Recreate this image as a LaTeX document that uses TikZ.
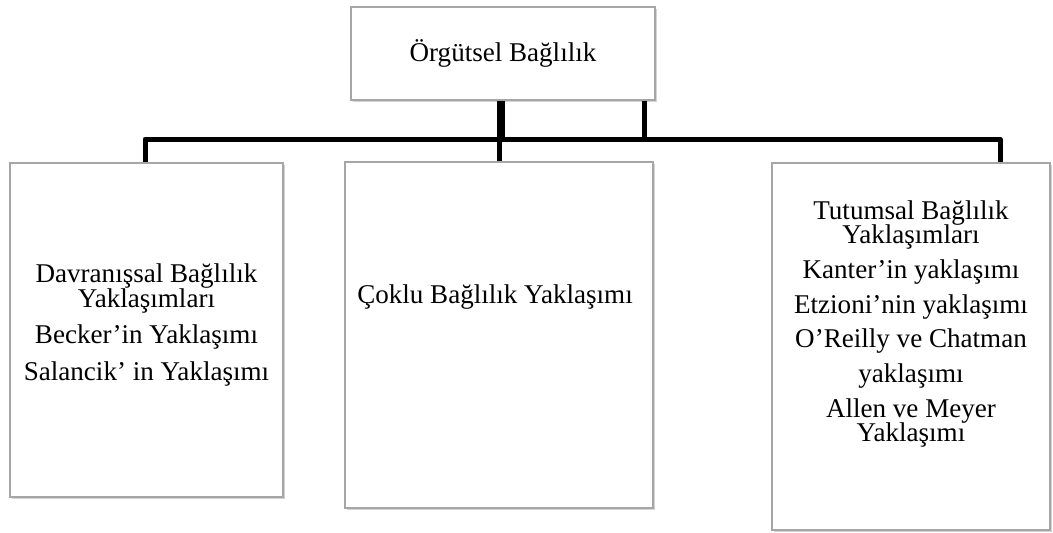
\documentclass[tikz,border=0pt]{standalone}
\usepackage{fontspec}
\setmainfont{Liberation Serif}
\usetikzlibrary{shadows}
\tikzset{
  box/.style={draw=gray!70, line width=0.9pt, fill=white,
    drop shadow={shadow xshift=1.5pt, shadow yshift=-1.5pt, opacity=0.35}},
  txt/.style={align=center, inner sep=0pt, font=\fontsize{20.3}{18.5}\selectfont},
  bar/.style={line width=3.75pt, line join=round}
}
\begin{document}
\begin{tikzpicture}[x=0.75pt,y=-0.75pt]
  \useasboundingbox (0,0) rectangle (1053,532);
  % bus line
  \coordinate (busL) at (145,139);
  \coordinate (busR) at (1000,139);
  \coordinate (busM) at (501,139);
  \coordinate (busN) at (644.5,139);
  \coordinate (busC) at (499,139);
  % boxes
  \node[box, txt, minimum width=228pt, minimum height=69.75pt] (org) at (503,53.5) {Örgütsel Bağlılık};
  \node[box, minimum width=204.75pt, minimum height=250.5pt] (davr) at (146.5,330) {};
  \node[box, minimum width=231pt, minimum height=259.5pt] (coklu) at (499,335) {};
  \node[box, minimum width=208.5pt, minimum height=275.25pt] (tutum) at (911,346.5) {};
  % connectors
  \draw[bar] (davr.north -| busL) -- (busL) -- (busR) -- (tutum.north -| busR);
  \draw[bar, line width=6pt] (org.south -| busM) -- (busM);
  \draw[bar] (org.south -| busN) -- (busN);
  \draw[bar] (busC) -- (coklu.north -| busC);
  % texts
  \node[txt] (davrT) at (146.5,325) {Davranışsal Bağlılık\\Yaklaşımları\\[9pt]Becker’in Yaklaşımı\\[9pt]Salancik’ in Yaklaşımı};
  \node[txt, anchor=west] (cokluT) at (357,297) {Çoklu Bağlılık Yaklaşımı};
  \node[txt] (tutumT) at (911,324) {Tutumsal Bağlılık\\Yaklaşımları\\[7.5pt]Kanter’in yaklaşımı\\[7.5pt]Etzioni’nin yaklaşımı\\[7.5pt]O’Reilly ve Chatman\\[7.5pt]yaklaşımı\\[7.5pt]Allen ve Meyer\\Yaklaşımı};
\end{tikzpicture}
\end{document}
